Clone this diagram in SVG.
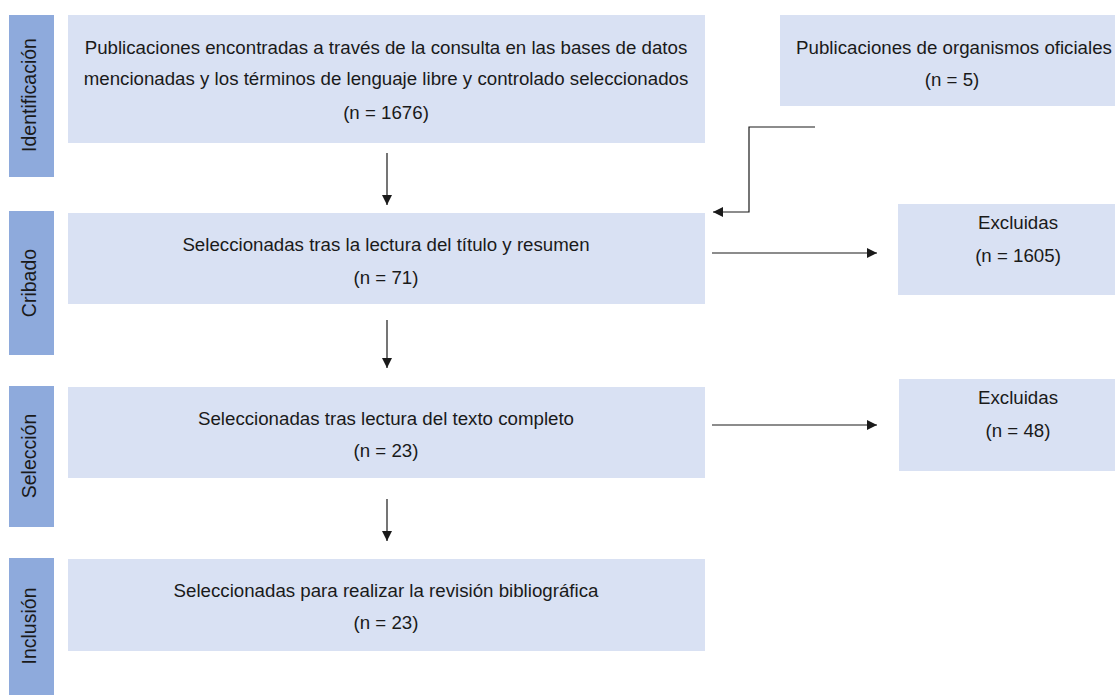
<svg xmlns="http://www.w3.org/2000/svg" width="1115" height="695" viewBox="0 0 1115 695">
<defs>
<style>
.bar{fill:#8eaadc}
.box{fill:#d9e1f3}
text{font-family:"Liberation Sans",Arial,sans-serif;font-size:18.7px;fill:#1a1a1a;text-anchor:middle}
.lab{font-size:19.5px}
.c{stroke:#1a1a1a;stroke-width:1.2;fill:none}
</style>
<marker id="ah" viewBox="0 0 10 10" refX="10" refY="5" markerWidth="10" markerHeight="10" markerUnits="userSpaceOnUse" orient="auto">
<path d="M0,0 L10,5 L0,10 z" fill="#1a1a1a"/>
</marker>
</defs>
<rect width="1115" height="695" fill="#fff"/>
<g id="bar-identificacion"><rect class="bar" x="9" y="15" width="45" height="162"/><text class="lab" transform="translate(36,95) rotate(-90)">Identificación</text></g>
<g id="bar-cribado"><rect class="bar" x="9" y="211" width="45" height="144"/><text class="lab" transform="translate(36,283) rotate(-90)">Cribado</text></g>
<g id="bar-seleccion"><rect class="bar" x="9" y="386" width="45" height="141"/><text class="lab" transform="translate(36,456) rotate(-90)">Selección</text></g>
<g id="bar-inclusion"><rect class="bar" x="9" y="558" width="45" height="137"/><text class="lab" transform="translate(36,626) rotate(-90)">Inclusión</text></g>
<g id="box-identificacion"><rect class="box" x="68" y="15" width="637" height="128"/>
<text x="386" y="54">Publicaciones encontradas a través de la consulta en las bases de datos</text>
<text x="386" y="85">mencionadas y los términos de lenguaje libre y controlado seleccionados</text>
<text x="386" y="119">(n = 1676)</text></g>
<g id="box-oficiales"><rect class="box" x="780" y="15" width="340" height="91"/>
<text x="954" y="54">Publicaciones de organismos oficiales</text>
<text x="952" y="86">(n = 5)</text></g>
<g id="box-cribado"><rect class="box" x="68" y="213" width="637" height="91"/>
<text x="386" y="251">Seleccionadas tras la lectura del título y resumen</text>
<text x="386" y="284">(n = 71)</text></g>
<g id="box-excl1"><rect class="box" x="898" y="204" width="220" height="91"/>
<text x="1018" y="229">Excluidas</text>
<text x="1018" y="262">(n = 1605)</text></g>
<g id="box-seleccion"><rect class="box" x="68" y="387" width="637" height="91"/>
<text x="386" y="425">Seleccionadas tras lectura del texto completo</text>
<text x="386" y="457">(n = 23)</text></g>
<g id="box-excl2"><rect class="box" x="899" y="379" width="220" height="92"/>
<text x="1018" y="404">Excluidas</text>
<text x="1018" y="437">(n = 48)</text></g>
<g id="box-inclusion"><rect class="box" x="68" y="559" width="637" height="92"/>
<text x="386" y="597">Seleccionadas para realizar la revisión bibliográfica</text>
<text x="386" y="629">(n = 23)</text></g>
<g id="connectors">
<line class="c" x1="387" y1="153" x2="387" y2="205" marker-end="url(#ah)"/>
<line class="c" x1="387" y1="320" x2="387" y2="368" marker-end="url(#ah)"/>
<line class="c" x1="387" y1="499" x2="387" y2="541" marker-end="url(#ah)"/>
<polyline class="c" points="815,127 749,127 749,212 713,212" marker-end="url(#ah)"/>
<line class="c" x1="712" y1="253" x2="877" y2="253" marker-end="url(#ah)"/>
<line class="c" x1="712" y1="425" x2="877" y2="425" marker-end="url(#ah)"/>
</g>
</svg>
